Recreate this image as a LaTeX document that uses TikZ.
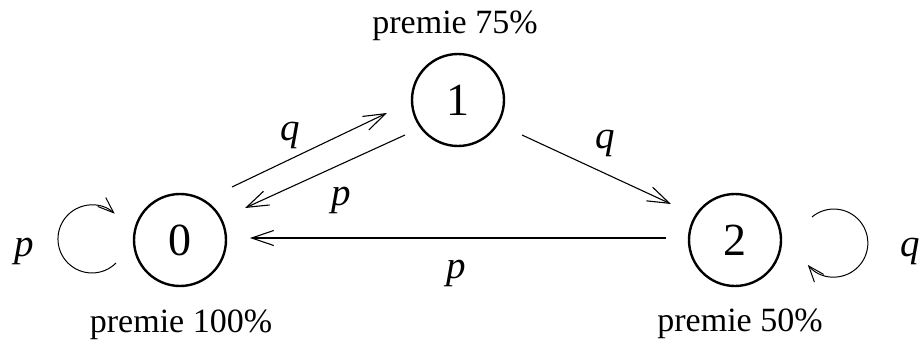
\documentclass[tikz,border=0pt]{standalone}
\usepackage{fontspec}
\setmainfont{Liberation Serif}
\usetikzlibrary{arrows.meta,calc}

\tikzset{
  state/.style={draw, circle, line width=2.4pt, minimum size=92pt, inner sep=0pt,
    font=\fontsize{46}{50}\selectfont},
  arr/.style={-{Straight Barb[length=22pt,width=15pt]}, line width=1.1pt},
  looparr/.style={-{Straight Barb[length=16pt,width=12pt]}, line width=1pt},
  prob/.style={font=\fontsize{39}{41}\selectfont\itshape},
  premie/.style={font=\fontsize{34}{37}\selectfont},
}

\begin{document}
\begin{tikzpicture}[x=1pt,y=1pt]
  \useasboundingbox (0,0) rectangle (922,341);

  % States
  \node[state] (n0) at (180,101) {0};
  \node[state] (n1) at (458,241) {1};
  \node[state] (n2) at (735,101) {2};

  % Premium labels
  \node[premie] (t1) at (455,315) {premie 75\%};
  \node[premie] (t0) at (181,16) {premie 100\%};
  \node[premie] (t2) at (740,17) {premie 50\%};

  % Transitions between states
  \draw[arr] ($(n0)+(52,53)$) -- ($(n1)+(-71,-13)$);
  \draw[arr] ($(n1)+(-53,-35)$) -- ($(n0)+(65,32)$);
  \draw[arr] ($(n1)+(64,-35)$) -- ($(n2)+(-64,36)$);
  \draw[arr] ($(n2)+(-69,2)$) -- ($(n0)+(70,2)$);

  % Self loops
  \draw[looparr] ($(n0)+(-64,-23)$) arc[start angle=-45, end angle=-312, radius=34];
  \draw[looparr] ($(n2)+(77,23)$) arc[start angle=130, end angle=-140, radius=34];

  % Transition probabilities
  \node[prob] (q01) at (290,206) {q};
  \node[prob] (p10) at (341,141) {p};
  \node[prob] (q12) at (605,198) {q};
  \node[prob] (p20) at (456,68) {p};
  \node[prob] (p00) at (24,90) {p};
  \node[prob] (q22) at (910,90) {q};
\end{tikzpicture}
\end{document}
